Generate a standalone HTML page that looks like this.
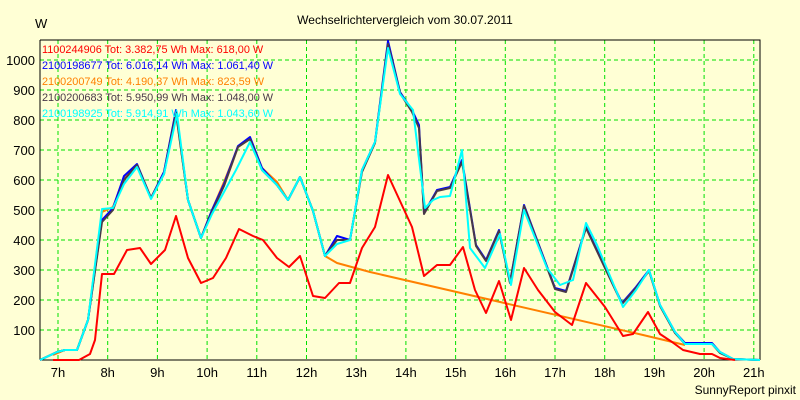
<!DOCTYPE html><html><head><style>body{margin:0;background:#ffffd5}svg{display:block}text{font-family:"Liberation Sans",Arial,sans-serif}</style></head><body>
<svg width="800" height="400" viewBox="0 0 800 400" font-size="12">
<rect width="800" height="400" fill="#ffffd5"/>
<text x="405" y="24" text-anchor="middle" font-size="12">Wechselrichtervergleich vom 30.07.2011</text>
<text x="35" y="28" font-size="13">W</text>
<g stroke="#00e000" stroke-dasharray="4,3" stroke-width="1">
<line x1="40" y1="330" x2="760" y2="330"/><line x1="40" y1="300" x2="760" y2="300"/><line x1="40" y1="270" x2="760" y2="270"/><line x1="40" y1="240" x2="760" y2="240"/><line x1="40" y1="210" x2="760" y2="210"/><line x1="40" y1="180" x2="760" y2="180"/><line x1="40" y1="150" x2="760" y2="150"/><line x1="40" y1="120" x2="760" y2="120"/><line x1="40" y1="90" x2="760" y2="90"/><line x1="40" y1="60" x2="760" y2="60"/>
<line x1="58" y1="40" x2="58" y2="360"/><line x1="107.7" y1="40" x2="107.7" y2="360"/><line x1="157.4" y1="40" x2="157.4" y2="360"/><line x1="207.1" y1="40" x2="207.1" y2="360"/><line x1="256.8" y1="40" x2="256.8" y2="360"/><line x1="306.5" y1="40" x2="306.5" y2="360"/><line x1="356.2" y1="40" x2="356.2" y2="360"/><line x1="405.9" y1="40" x2="405.9" y2="360"/><line x1="455.6" y1="40" x2="455.6" y2="360"/><line x1="505.3" y1="40" x2="505.3" y2="360"/><line x1="555" y1="40" x2="555" y2="360"/><line x1="604.7" y1="40" x2="604.7" y2="360"/><line x1="654.4" y1="40" x2="654.4" y2="360"/><line x1="704.1" y1="40" x2="704.1" y2="360"/><line x1="753.8" y1="40" x2="753.8" y2="360"/>
</g>
<polyline fill="none" stroke="#000" stroke-width="1" points="40,40 760,40 760,360"/>
<line x1="40" y1="40" x2="40" y2="360" stroke="#000"/><line x1="40" y1="360" x2="760" y2="360" stroke="#000"/>
<g text-anchor="end" font-size="13"><text x="35" y="335">100</text><text x="35" y="305">200</text><text x="35" y="275">300</text><text x="35" y="245">400</text><text x="35" y="215">500</text><text x="35" y="185">600</text><text x="35" y="155">700</text><text x="35" y="125">800</text><text x="35" y="95">900</text><text x="35" y="65">1000</text></g>
<g text-anchor="middle" font-size="13"><text x="58" y="377">7h</text><text x="107.7" y="377">8h</text><text x="157.4" y="377">9h</text><text x="207.1" y="377">10h</text><text x="256.8" y="377">11h</text><text x="306.5" y="377">12h</text><text x="356.2" y="377">13h</text><text x="405.9" y="377">14h</text><text x="455.6" y="377">15h</text><text x="505.3" y="377">16h</text><text x="555" y="377">17h</text><text x="604.7" y="377">18h</text><text x="654.4" y="377">19h</text><text x="704.1" y="377">20h</text><text x="753.8" y="377">21h</text></g>
<text x="796" y="394" text-anchor="end" font-size="12">SunnyReport pinxit</text>
<g fill="none" stroke-width="2" stroke-linejoin="round">
<polyline stroke="#ff8000" points="53,355 65,350 77,350 88,320 102,212 113,207 124,178 137,165 151,198 164,172 176,112 188,200 201,238 212,210 224,182 238,147 250,138 262,168 277,182 288,200 300,177 313,211 325,256 337,263 348,266 370,272 643,335 685,345"/>
<polyline stroke="#0000ff" points="40,360 57,352 65,350 77,350 88,320 102,220 113,208 124,176 137,164 151,198 164,172 176,110 188,200 201,238 212,210 224,184 238,146 250,137 262,168 277,185 288,200 300,177 313,211 325,256 337,236 350,240 362,170 375,142 388,41 400,92 412,110 419,125 424,213 437,190 450,187 462,160 476,245 486,260 499,230 510,282 524,205 555,288 566,291 586,227 622,303 636,287 649,270 660,305 675,332 685,343 712,343 720,352 733,359 760,360"/>
<polyline stroke="#483848" points="40,360 57,352 65,350 77,350 88,320 102,222 113,210 124,180 137,165 151,198 164,174 176,113 188,200 201,238 212,212 224,186 238,147 250,139 262,170 277,185 288,200 300,177 313,211 325,256 337,240 350,240 362,172 375,143 388,44 400,93 412,112 419,128 424,214 437,191 450,188 462,162 476,246 486,261 499,231 510,283 524,206 555,289 566,292 586,228 622,304 636,288 649,271 660,306 675,333 685,344 712,344 720,353 733,359 760,360"/>
<polyline stroke="#00ffff" points="40,360 57,352 65,350 77,350 88,320 102,209 113,208 124,184 137,167 151,199 164,174 177,114 188,200 201,238 212,214 224,192 236,170 250,142 262,170 277,185 288,200 300,177 313,211 325,256 337,244 350,240 362,170 375,142 388,48 400,94 413,110 425,208 433,200 440,197 450,196 462,150 470,248 485,268 500,234 511,285 524,210 547,268 560,285 573,280 586,223 597,245 623,307 636,290 649,270 660,305 675,332 685,344 712,344 720,352 733,359 760,360"/>
<polyline stroke="#ff0000" points="53,360 79,360 90,354 95,340 102,274 114,274 127,250 140,248 151,264 165,250 176,216 188,258 201,283 213,278 226,258 239,229 253,236 263,240 277,258 289,267 300,256 313,296 325,298 339,283 350,283 362,248 375,227 388,175 412,227 424,276 437,265 450,265 463,247 475,290 486,313 499,281 511,320 524,268 538,290 555,312 572,325 586,283 605,307 623,336 633,334 648,312 660,334 672,342 683,350 700,354 712,354 720,358 735,360"/>
</g>
<g font-size="10.9">
<text x="42" y="53" fill="#ff0000">1100244906 Tot: 3.382,75 Wh Max: 618,00 W</text>
<text x="42" y="69" fill="#0000ff">2100198677 Tot: 6.016,14 Wh Max: 1.061,40 W</text>
<text x="42" y="85" fill="#ff8000">2100200749 Tot: 4.190,37 Wh Max: 823,59 W</text>
<text x="42" y="101" fill="#483848">2100200683 Tot: 5.950,99 Wh Max: 1.048,00 W</text>
<text x="42" y="117" fill="#00ffff">2100198925 Tot: 5.914,91 Wh Max: 1.043,60 W</text>
</g>
</svg></body></html>
